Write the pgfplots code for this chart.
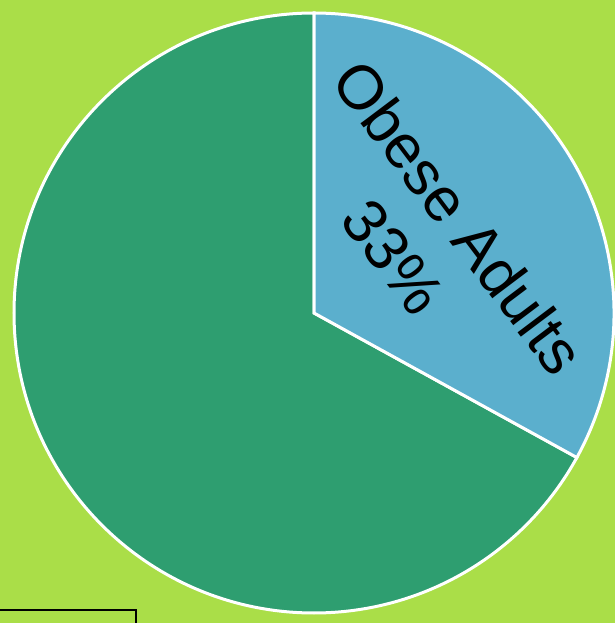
\documentclass[border=0pt]{standalone}
\usepackage{pgfplots}
\usepackage{pgfplotstable}
\pgfplotsset{compat=1.18}
\usepackage{fontspec}
\setmainfont{Liberation Sans}
\definecolor{bglime}{RGB}{170,222,72}
\definecolor{piegreen}{RGB}{46,158,112}
\definecolor{pieblue}{RGB}{91,175,205}
\pgfplotstableread[col sep=comma]{
label,value
Other,67
Obese Adults,33
}\piedata
\begin{document}
\begin{tikzpicture}
\pgfplotstablegetelem{0}{value}\of\piedata \let\vother\pgfplotsretval
\pgfplotstablegetelem{1}{value}\of\piedata \let\vobese\pgfplotsretval
\pgfmathsetmacro{\tot}{\vother+\vobese}
\pgfmathsetmacro{\angobese}{90-360*\vobese/\tot}
\pgfmathtruncatemacro{\pct}{round(100*\vobese/\tot)}
\begin{axis}[
  anchor=south west, at={(0,0)},
  scale only axis, width=307.5pt, height=311.5pt,
  xmin=0, xmax=615, ymin=0, ymax=623,
  axis lines=none,
  clip=true,
  axis background/.style={fill=bglime},
]
% pie slices (centre at pixel (314,313), radius 300 px = 150pt)
\fill[piegreen, draw=white, line width=1.5pt] (axis cs:314,310) -- ++(90:150pt) arc[start angle=90, end angle={360+\angobese}, radius=150pt] -- cycle;
\fill[pieblue, draw=white, line width=1.5pt] (axis cs:314,310) -- ++(\angobese:150pt) arc[start angle=\angobese, end angle=90, radius=150pt] -- cycle;
\draw[black, line width=1pt] (axis cs:-5,-20) rectangle (axis cs:136,13);
\node[rotate=-53, font=\fontsize{31}{35}\selectfont, inner sep=0pt] at (axis cs:459,406) {Obese Adults};
\node[rotate=-53, font=\fontsize{31}{35}\selectfont, inner sep=0pt] at (axis cs:393,366) {\pct\%};
\end{axis}
\pgfresetboundingbox
\path[use as bounding box] (0,0) rectangle (307.5pt,311.5pt);
\end{tikzpicture}
\end{document}
